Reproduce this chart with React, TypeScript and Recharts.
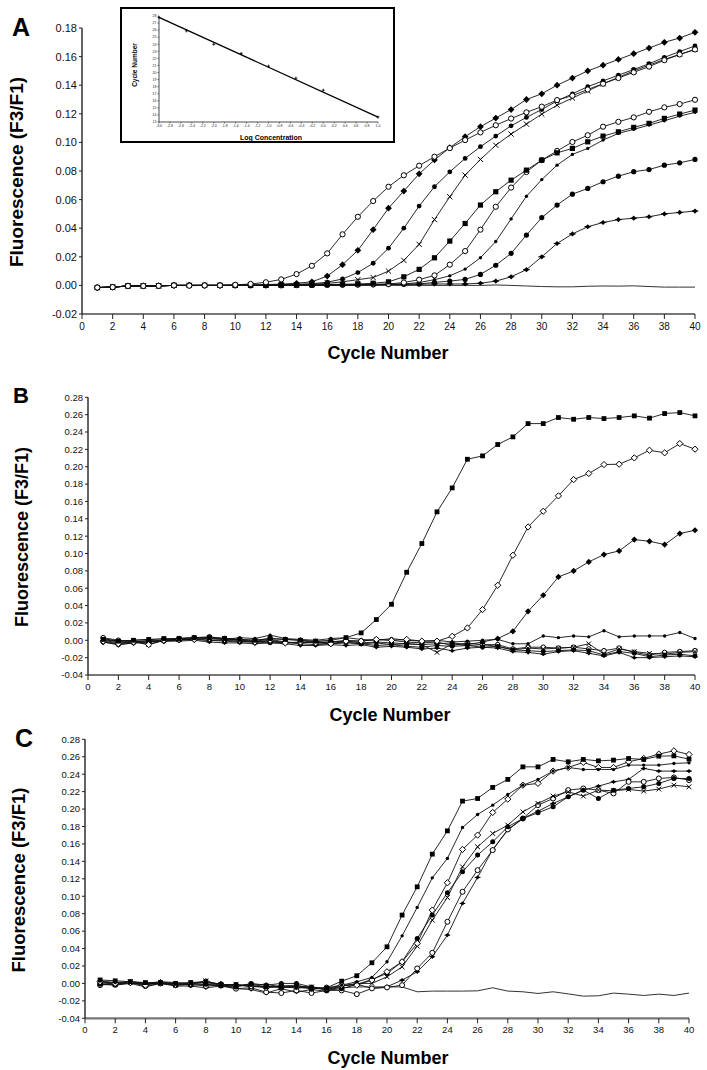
import React from 'react';
import { ComposedChart, LineChart, Line, Scatter, XAxis, YAxis } from 'recharts';

// cycles shared by all three panels
const cycles = [1, 2, 3, 4, 5, 6, 7, 8, 9, 10, 11, 12, 13, 14, 15, 16, 17, 18, 19, 20, 21, 22, 23, 24, 25, 26, 27, 28, 29, 30, 31, 32, 33, 34, 35, 36, 37, 38, 39, 40];
const cycleTicks = [0, 2, 4, 6, 8, 10, 12, 14, 16, 18, 20, 22, 24, 26, 28, 30, 32, 34, 36, 38, 40];
const ticksA = [-0.02, 0, 0.02, 0.04, 0.06, 0.08, 0.1, 0.12, 0.14, 0.16, 0.18];
const ticksBC = [-0.04, -0.02, 0, 0.02, 0.04, 0.06, 0.08, 0.1, 0.12, 0.14, 0.16, 0.18, 0.2, 0.22, 0.24, 0.26, 0.28];

// panel A - dilution series
const a1 = [-0.0015, -0.0012, -0.0004, -0.0004, -0.0003, 0, -0.0002, 0, 0, 0.0004, 0.001, 0.0022, 0.0042, 0.0079, 0.0137, 0.0224, 0.0357, 0.048, 0.059, 0.069, 0.077, 0.0837, 0.09, 0.096, 0.1016, 0.107, 0.112, 0.1167, 0.121, 0.125, 0.1296, 0.1327, 0.137, 0.141, 0.145, 0.149, 0.153, 0.1575, 0.1615, 0.165];
const a2 = [-0.0015, -0.0012, -0.0004, -0.0004, -0.0003, 0, 0, 0, 0, 0.0002, 0.0004, 0.0006, 0.0009, 0.0015, 0.0025, 0.0065, 0.0145, 0.0245, 0.039, 0.054, 0.066, 0.078, 0.0877, 0.0963, 0.104, 0.111, 0.117, 0.123, 0.13, 0.134, 0.14, 0.145, 0.15, 0.154, 0.158, 0.162, 0.166, 0.17, 0.173, 0.177];
const a3 = [-0.0015, -0.0012, -0.0004, -0.0004, -0.0003, 0, 0, 0, 0, 0, 0.0002, 0.0003, 0.0005, 0.0008, 0.0012, 0.0022, 0.0045, 0.009, 0.0155, 0.026, 0.04, 0.0555, 0.069, 0.0794, 0.0888, 0.097, 0.1044, 0.1116, 0.1175, 0.123, 0.129, 0.134, 0.139, 0.143, 0.147, 0.151, 0.155, 0.1595, 0.1635, 0.1675];
const a4 = [-0.0015, -0.0012, -0.0004, -0.0004, -0.0003, 0, 0, 0, 0, 0, 0, 0.0002, 0.0003, 0.0005, 0.0008, 0.0014, 0.0025, 0.004, 0.0055, 0.01, 0.0175, 0.0287, 0.046, 0.062, 0.0771, 0.0881, 0.098, 0.1058, 0.1128, 0.1198, 0.126, 0.131, 0.136, 0.141, 0.1455, 0.15, 0.154, 0.158, 0.1615, 0.165];
const a5 = [-0.0015, -0.0012, -0.0004, -0.0004, -0.0003, 0, 0, 0, 0, 0, 0, 0, 0.0002, 0.0003, 0.0004, 0.0006, 0.0008, 0.001, 0.0015, 0.0025, 0.006, 0.0112, 0.0193, 0.031, 0.0433, 0.0562, 0.0655, 0.0736, 0.0806, 0.0876, 0.0927, 0.0958, 0.1004, 0.1044, 0.1074, 0.1105, 0.1133, 0.1168, 0.1198, 0.1226];
const a6 = [-0.0015, -0.0012, -0.0004, -0.0004, -0.0003, 0, 0, 0, 0, 0, 0, 0, 0, 0.0002, 0.0003, 0.0004, 0.0005, 0.0006, 0.0008, 0.001, 0.002, 0.004, 0.007, 0.0145, 0.024, 0.039, 0.055, 0.0684, 0.0793, 0.0876, 0.094, 0.1003, 0.105, 0.111, 0.1144, 0.1175, 0.1214, 0.1245, 0.1268, 0.1298];
const a7 = [-0.0015, -0.0012, -0.0004, -0.0004, -0.0003, 0, 0, 0, 0, 0, 0, 0, 0, 0, 0.0002, 0.0003, 0.0004, 0.0005, 0.0006, 0.0008, 0.001, 0.002, 0.004, 0.0067, 0.0114, 0.0193, 0.0307, 0.0465, 0.0623, 0.074, 0.0841, 0.0916, 0.0958, 0.1016, 0.1063, 0.1091, 0.1121, 0.1151, 0.1184, 0.121];
const a8 = [-0.0015, -0.0012, -0.0004, -0.0004, -0.0003, 0, 0, 0, 0, 0, 0, 0, 0, 0, 0, 0.0002, 0.0003, 0.0004, 0.0005, 0.0006, 0.0008, 0.001, 0.0021, 0.003, 0.0042, 0.0077, 0.0141, 0.0224, 0.0352, 0.0474, 0.0562, 0.0638, 0.0678, 0.0725, 0.0764, 0.0795, 0.081, 0.0841, 0.0857, 0.0881];
const a9 = [-0.0015, -0.0012, -0.0004, -0.0004, -0.0003, 0, 0, 0, 0, 0, 0, 0, 0, 0, 0, 0, 0.0002, 0.0003, 0.0004, 0.0005, 0.0006, 0.0008, 0.001, 0.001, 0.001, 0.0015, 0.003, 0.006, 0.011, 0.02, 0.0293, 0.036, 0.041, 0.044, 0.046, 0.047, 0.048, 0.05, 0.051, 0.052];
const aNeg = [-0.0015, -0.0012, -0.0004, -0.0004, -0.0003, 0, 0, 0, 0, 0, 0, 0, 0, 0, 0, 0, 0, 0, 0, 0, 0, 0, 0, 0, 0, 0, 0.0003, 0, -0.0004, -0.0008, -0.001, -0.001, -0.0006, -0.0004, -0.0005, -0.0003, -0.0008, -0.0012, -0.0012, -0.0012];

// panel B
const b1 = [0.001, -0.001, 0, 0.001, 0.002, 0.002, 0.003, 0.003, 0.002, 0.001, 0, 0.002, 0.001, 0, -0.001, 0, 0.0031, 0.0085, 0.0239, 0.0415, 0.0784, 0.1115, 0.148, 0.1756, 0.2086, 0.2125, 0.2256, 0.2344, 0.2497, 0.2497, 0.2567, 0.2547, 0.2567, 0.2555, 0.2567, 0.2586, 0.256, 0.2613, 0.2624, 0.2586];
const b2 = [-0.001, -0.004, -0.002, -0.005, 0, 0.001, 0.001, 0.002, 0.001, 0, -0.002, 0, -0.003, -0.002, -0.003, -0.004, -0.001, -0.001, 0.001, 0, 0.001, -0.001, -0.001, 0.0046, 0.0142, 0.0354, 0.0634, 0.098, 0.1306, 0.1487, 0.1664, 0.1852, 0.1922, 0.2025, 0.2029, 0.2102, 0.219, 0.216, 0.2267, 0.2202];
const b3 = [-0.002, -0.005, -0.003, -0.002, -0.001, 0.001, 0.001, 0, 0, -0.001, -0.002, -0.001, -0.003, -0.003, -0.002, -0.002, -0.001, -0.003, -0.002, -0.003, -0.004, -0.005, -0.004, -0.003, -0.005, -0.002, 0.0019, 0.0104, 0.0334, 0.0519, 0.073, 0.0799, 0.0903, 0.0988, 0.103, 0.116, 0.1141, 0.1103, 0.123, 0.1268];
const b4 = [0.002, -0.001, 0, 0.001, 0, 0.002, 0.003, 0.002, 0.001, 0.003, 0.002, 0.006, 0.002, 0.001, 0, 0.002, 0.003, 0.001, 0, 0.002, 0, -0.001, 0, -0.002, -0.001, 0, 0.001, -0.004, -0.004, 0.005, 0.003, 0.005, 0.004, 0.011, 0.004, 0.005, 0.005, 0.005, 0.009, 0.002];
const b5 = [0.001, -0.002, -0.001, -0.005, 0, 0.001, 0.002, 0.003, 0.002, 0, -0.001, 0.001, -0.002, -0.003, -0.001, -0.004, -0.002, -0.004, -0.003, -0.005, -0.004, -0.005, -0.014, -0.004, -0.006, -0.005, -0.007, -0.011, -0.009, -0.01, -0.009, -0.008, -0.004, -0.016, -0.01, -0.013, -0.015, -0.016, -0.014, -0.013];
const b6 = [-0.002, -0.005, -0.003, -0.002, -0.001, 0, 0.001, 0, -0.001, -0.002, -0.002, -0.003, -0.002, -0.004, -0.005, -0.004, -0.003, -0.004, -0.006, -0.005, -0.007, -0.008, -0.006, -0.007, -0.006, -0.008, -0.007, -0.011, -0.012, -0.013, -0.012, -0.011, -0.012, -0.017, -0.013, -0.015, -0.019, -0.017, -0.016, -0.018];
const b7 = [0.003, 0, -0.001, -0.002, 0.001, 0.002, 0.003, 0.004, 0.002, 0.001, 0, 0.002, 0.001, 0, -0.003, -0.002, 0, -0.001, 0.001, 0, -0.002, -0.003, -0.002, -0.006, -0.003, -0.005, -0.005, -0.01, -0.008, -0.008, -0.009, -0.008, -0.01, -0.012, -0.009, -0.014, -0.017, -0.014, -0.013, -0.012];
const b8 = [0, -0.003, -0.002, 0, -0.001, -0.001, 0, -0.002, -0.003, -0.003, -0.004, -0.003, -0.004, -0.006, -0.006, -0.005, -0.006, -0.005, -0.008, -0.007, -0.008, -0.01, -0.009, -0.012, -0.009, -0.008, -0.009, -0.013, -0.014, -0.016, -0.013, -0.012, -0.015, -0.018, -0.014, -0.02, -0.02, -0.019, -0.018, -0.019];

// panel C
const c1 = [0.004, 0.003, 0.002, 0.001, 0.001, 0, 0.001, 0.002, -0.001, -0.002, -0.001, -0.004, -0.003, -0.002, -0.006, -0.005, 0.0026, 0.0088, 0.0237, 0.042, 0.0784, 0.1108, 0.1483, 0.175, 0.2091, 0.2121, 0.2248, 0.234, 0.2484, 0.2484, 0.2569, 0.2542, 0.2569, 0.2553, 0.2561, 0.258, 0.2569, 0.2607, 0.261, 0.2573];
const c2 = [0.003, 0.001, 0.002, 0, 0.002, 0.001, 0, 0.001, -0.002, -0.003, -0.002, -0.001, -0.004, -0.005, -0.004, -0.006, -0.002, 0.0019, 0.0069, 0.0248, 0.0546, 0.0872, 0.1211, 0.1434, 0.1789, 0.1938, 0.2045, 0.2167, 0.2274, 0.234, 0.2435, 0.2477, 0.2454, 0.2454, 0.2454, 0.2504, 0.2504, 0.2504, 0.2523, 0.253];
const c3 = [0.002, 0, 0.001, -0.002, 0.001, -0.001, 0, 0.002, -0.001, -0.002, -0.003, -0.005, -0.003, -0.004, -0.006, -0.005, -0.002, -0.002, 0.0038, 0.0134, 0.0248, 0.0459, 0.0841, 0.1154, 0.1537, 0.1701, 0.1961, 0.2114, 0.2274, 0.2294, 0.2435, 0.2477, 0.2535, 0.2477, 0.2477, 0.2542, 0.258, 0.263, 0.2668, 0.2626];
const c4 = [0.001, -0.001, 0.002, 0, 0, -0.002, -0.001, 0.003, -0.002, -0.001, -0.004, -0.003, -0.005, -0.003, -0.004, -0.007, -0.003, 0, 0, 0.0076, 0.019, 0.0428, 0.0726, 0.0986, 0.1337, 0.1567, 0.172, 0.1816, 0.1968, 0.2064, 0.2148, 0.2198, 0.2148, 0.2217, 0.221, 0.2225, 0.2206, 0.2229, 0.2274, 0.2255];
const c5 = [-0.001, -0.002, 0.001, -0.001, 0.001, 0, -0.002, -0.001, -0.003, -0.004, 0, -0.002, 0, 0, -0.004, -0.008, -0.006, -0.0012, 0.0046, 0.0115, 0.0248, 0.0516, 0.0784, 0.1039, 0.128, 0.1472, 0.1624, 0.1796, 0.1892, 0.1957, 0.2026, 0.214, 0.2217, 0.2121, 0.2217, 0.2236, 0.2255, 0.2294, 0.2351, 0.2351];
const c6 = [-0.002, 0, 0.001, -0.003, 0, -0.002, -0.001, -0.003, -0.002, -0.006, -0.005, -0.01, -0.011, -0.008, -0.011, -0.008, -0.008, -0.0123, -0.0057, -0.0046, -0.002, 0.0172, 0.0351, 0.0707, 0.1051, 0.1299, 0.1529, 0.1766, 0.1892, 0.2045, 0.2121, 0.2217, 0.2236, 0.2217, 0.2179, 0.2312, 0.2312, 0.2351, 0.2362, 0.2332];
const c7 = [0, -0.002, 0, -0.004, 0, -0.003, -0.003, -0.005, -0.003, -0.006, -0.007, -0.011, -0.006, -0.01, -0.007, -0.009, -0.003, -0.0008, -0.0057, -0.0038, 0.0038, 0.0134, 0.0306, 0.0554, 0.0918, 0.1216, 0.1537, 0.1758, 0.1892, 0.1976, 0.2064, 0.214, 0.2217, 0.2263, 0.2312, 0.234, 0.2466, 0.2435, 0.2435, 0.2435];
const cNeg = [0.002, 0, 0.001, -0.001, 0.001, -0.001, 0, -0.001, -0.002, -0.002, -0.003, -0.004, -0.004, -0.005, -0.005, -0.006, -0.005, -0.004, -0.004, -0.004, -0.004, -0.0096, -0.0088, -0.0088, -0.0088, -0.0085, -0.005, -0.0088, -0.0096, -0.0115, -0.0096, -0.012, -0.0146, -0.0142, -0.0111, -0.0123, -0.0138, -0.0123, -0.0138, -0.0111];

// inset: standard curve
const logConc = [-3.0, -2.5, -2.0, -1.5, -1.0, -0.5, 0.0, 1.0];
const ctValues = [27.8, 25.9, 24.0, 22.7, 20.9, 19.2, 17.5, 13.7];
const fitConc = [-3.0, 1.0];
const fitCt = [27.8, 13.7];
const insetYTicks = [13, 14, 15, 16, 17, 18, 19, 20, 21, 22, 23, 24, 25, 26, 27, 28];
const insetXTicks = [-3.0, -2.8, -2.6, -2.4, -2.2, -2.0, -1.8, -1.6, -1.4, -1.2, -1.0, -0.8, -0.6, -0.4, -0.2, 0.0, 0.2, 0.4, 0.6, 0.8, 1.0];

const buildRows = (series: Record<string, number[]>) =>
  cycles.map((c, i) => {
    const row: Record<string, number> = { cycle: c };
    Object.keys(series).forEach((k) => (row[k] = series[k][i]));
    return row;
  });

const rowsA = buildRows({ a1, a2, a3, a4, a5, a6, a7, a8, a9, aNeg });
const rowsB = buildRows({ b1, b2, b3, b4, b5, b6, b7, b8 });
const rowsC = buildRows({ c1, c2, c3, c4, c5, c6, c7, cNeg });
const insetPts = logConc.map((x, i) => ({ x, ct: ctValues[i] }));
const insetFit = fitConc.map((x, i) => ({ x, ct: fitCt[i] }));

// marker shapes
const makeDot = (shape: string, s = 2.6) => (p: any) => {
  const { cx, cy, index } = p;
  const k = `${shape}-${index}`;
  if (cx == null || cy == null) return <g key={k} />;
  const d = s * 1.3;
  switch (shape) {
    case 'oc':
      return <circle key={k} cx={cx} cy={cy} r={s} fill="#fff" stroke="#000" strokeWidth={1} />;
    case 'fc':
      return <circle key={k} cx={cx} cy={cy} r={s} fill="#000" />;
    case 'fd':
      return <polygon key={k} points={`${cx},${cy - d} ${cx + d},${cy} ${cx},${cy + d} ${cx - d},${cy}`} fill="#000" />;
    case 'od':
      return <polygon key={k} points={`${cx},${cy - d} ${cx + d},${cy} ${cx},${cy + d} ${cx - d},${cy}`} fill="#fff" stroke="#000" strokeWidth={1} />;
    case 'sq':
      return <rect key={k} x={cx - s} y={cy - s} width={s * 2} height={s * 2} fill="#000" />;
    case 'x':
      return <path key={k} d={`M${cx - s},${cy - s}L${cx + s},${cy + s}M${cx - s},${cy + s}L${cx + s},${cy - s}`} stroke="#000" strokeWidth={1} />;
    case 'sd':
      return <circle key={k} cx={cx} cy={cy} r={s * 0.65} fill="#000" />;
    case 'pl':
      return (
        <g key={k}>
          <polygon points={`${cx},${cy - s} ${cx + s},${cy} ${cx},${cy + s} ${cx - s},${cy}`} fill="#000" />
          <path d={`M${cx - s * 1.3},${cy}L${cx + s * 1.3},${cy}`} stroke="#000" strokeWidth={1} />
        </g>
      );
    default:
      return <g key={k} />;
  }
};

type Series = { key: string; shape: string; size?: number };

const seriesA: Series[] = [
  { key: 'a9', shape: 'pl' }, { key: 'a8', shape: 'fc' }, { key: 'a7', shape: 'sd' },
  { key: 'a6', shape: 'oc' }, { key: 'a5', shape: 'sq' }, { key: 'a4', shape: 'x' },
  { key: 'a3', shape: 'fc', size: 2.4 }, { key: 'a2', shape: 'fd' }, { key: 'a1', shape: 'oc' },
];
const seriesB: Series[] = [
  { key: 'b8', shape: 'pl', size: 2.2 }, { key: 'b7', shape: 'oc', size: 2.3 }, { key: 'b6', shape: 'fc', size: 2.4 },
  { key: 'b5', shape: 'x', size: 2.3 }, { key: 'b4', shape: 'sd' }, { key: 'b3', shape: 'fd', size: 2.4 },
  { key: 'b2', shape: 'od', size: 2.4 }, { key: 'b1', shape: 'sq', size: 2.4 },
];
const seriesC: Series[] = [
  { key: 'c7', shape: 'pl', size: 2.2 }, { key: 'c6', shape: 'oc', size: 2.5 }, { key: 'c5', shape: 'fc', size: 2.5 },
  { key: 'c4', shape: 'x', size: 2.4 }, { key: 'c3', shape: 'od', size: 2.4 }, { key: 'c2', shape: 'sd' },
  { key: 'c1', shape: 'sq', size: 2.4 },
];

const FONT = '"Liberation Sans", Arial, Helvetica, sans-serif';
const fmt2 = (v: number) => v.toFixed(2);

type PanelProps = {
  top: number; height: number; marginTop: number; plotLeft: number; plotRight: number; xAxisH: number;
  rows: any[]; series: Series[]; negKey?: string; yDomain: [number, number]; yTicks: number[];
  yFont: number; xFont: number; xTickSize: number; xTickMargin: number;
};

const Panel = (p: PanelProps) => (
  <div style={{ position: 'absolute', left: 0, top: p.top }}>
    <LineChart width={707} height={p.height} data={p.rows}
      margin={{ top: p.marginTop, right: 707 - p.plotRight, bottom: 0, left: 0 }}>
      <XAxis type="number" dataKey="cycle" domain={[0, 40]} ticks={cycleTicks} interval={0}
        height={p.xAxisH} tickSize={p.xTickSize} tickMargin={p.xTickMargin}
        axisLine={{ stroke: '#777', strokeWidth: 2.2 }} tickLine={{ stroke: '#222' }}
        tick={{ fontSize: p.xFont, fill: '#111', fontFamily: FONT }} />
      <YAxis type="number" domain={p.yDomain} ticks={p.yTicks} interval={0} width={p.plotLeft}
        tickFormatter={fmt2} tickSize={3} tickMargin={2}
        axisLine={{ stroke: '#111', strokeWidth: 1.3 }} tickLine={{ stroke: '#222' }}
        tick={{ fontSize: p.yFont, fill: '#111', fontFamily: FONT }} />
      {p.negKey && (
        <Line dataKey={p.negKey} stroke="#333" strokeWidth={1} dot={false} activeDot={false} isAnimationActive={false} />
      )}
      {p.series.map((s) => (
        <Line key={s.key} dataKey={s.key} stroke="#111" strokeWidth={0.9} dot={makeDot(s.shape, s.size)}
          activeDot={false} isAnimationActive={false} />
      ))}
    </LineChart>
  </div>
);

const Txt = ({ x, y, size, rotate = 0, bold = true, children }: any) => (
  <div style={{
    position: 'absolute', left: x, top: y, fontSize: size, fontWeight: bold ? 700 : 400, whiteSpace: 'nowrap',
    transform: `translate(-50%, -50%) rotate(${rotate}deg)`, lineHeight: 1, color: '#000',
  }}>{children}</div>
);

const Inset = () => (
  <div style={{
    position: 'absolute', left: 120, top: 7, width: 275, height: 136, border: '2px solid #000',
    boxSizing: 'border-box', background: '#fff',
  }}>
    <ComposedChart width={271} height={132} margin={{ top: 7, right: 15, bottom: 9, left: 0 }}>
      <XAxis type="number" dataKey="x" domain={[-3, 1]} ticks={insetXTicks} interval={0} height={10}
        tickFormatter={(v: number) => v.toFixed(1)} tickSize={1.5} tickMargin={1}
        axisLine={{ stroke: '#222', strokeWidth: 0.8 }} tickLine={{ stroke: '#222', strokeWidth: 0.6 }}
        tick={{ fontSize: 3.5, fill: '#222', fontFamily: FONT }} />
      <YAxis type="number" dataKey="ct" domain={[13, 28]} ticks={insetYTicks} interval={0} width={37}
        tickSize={1.5} tickMargin={1}
        axisLine={{ stroke: '#222', strokeWidth: 0.8 }} tickLine={{ stroke: '#222', strokeWidth: 0.6 }}
        tick={{ fontSize: 3.5, fill: '#222', fontFamily: FONT }} />
      <Line data={insetFit} dataKey="ct" stroke="#000" strokeWidth={1.3} dot={false} activeDot={false}
        isAnimationActive={false} />
      <Scatter data={insetPts} dataKey="ct" isAnimationActive={false}
        shape={(sp: any) => (
          <path d={`M${sp.cx - 1.5},${sp.cy}L${sp.cx + 1.5},${sp.cy}M${sp.cx},${sp.cy - 1.5}L${sp.cx},${sp.cy + 1.5}`}
            stroke="#000" strokeWidth={0.8} />
        )} />
    </ComposedChart>
  </div>
);

export default function App() {
  return (
    <div style={{ position: 'relative', width: 707, height: 1070, background: '#fff', fontFamily: FONT, overflow: 'hidden' }}>
      <style>{'body{margin:0}'}</style>

      <Panel top={0} height={340} marginTop={28} plotLeft={82} plotRight={695} xAxisH={26}
        rows={rowsA} series={seriesA} negKey="aNeg" yDomain={[-0.02, 0.18]} yTicks={ticksA}
        yFont={11} xFont={10} xTickSize={5} xTickMargin={4} />
      <Panel top={380} height={320} marginTop={17.3} plotLeft={88} plotRight={695} xAxisH={25}
        rows={rowsB} series={seriesB} yDomain={[-0.04, 0.28]} yTicks={ticksBC}
        yFont={9.5} xFont={9.5} xTickSize={5} xTickMargin={3} />
      <Panel top={720} height={330} marginTop={19.3} plotLeft={85} plotRight={689} xAxisH={31.7}
        rows={rowsC} series={seriesC} negKey="cNeg" yDomain={[-0.04, 0.28]} yTicks={ticksBC}
        yFont={9.5} xFont={9.5} xTickSize={5} xTickMargin={3} />

      <Inset />
      <Txt x={135} y={65} size={6.5} rotate={-90}>Cycle Number</Txt>
      <Txt x={271} y={137} size={7}>Log Concentration</Txt>

      <Txt x={21} y={27} size={25}>A</Txt>
      <Txt x={21} y={396} size={22}>B</Txt>
      <Txt x={24} y={738} size={25}>C</Txt>

      <Txt x={16} y={172} size={19} rotate={-90}>Fluorescence (F3/F1)</Txt>
      <Txt x={22} y={537} size={18} rotate={-90}>Fluorescence (F3/F1)</Txt>
      <Txt x={19} y={880} size={18.5} rotate={-90}>Fluorescence (F3/F1)</Txt>

      <Txt x={388} y={353} size={18}>Cycle Number</Txt>
      <Txt x={390} y={715} size={18}>Cycle Number</Txt>
      <Txt x={388} y={1058} size={18}>Cycle Number</Txt>
    </div>
  );
}
